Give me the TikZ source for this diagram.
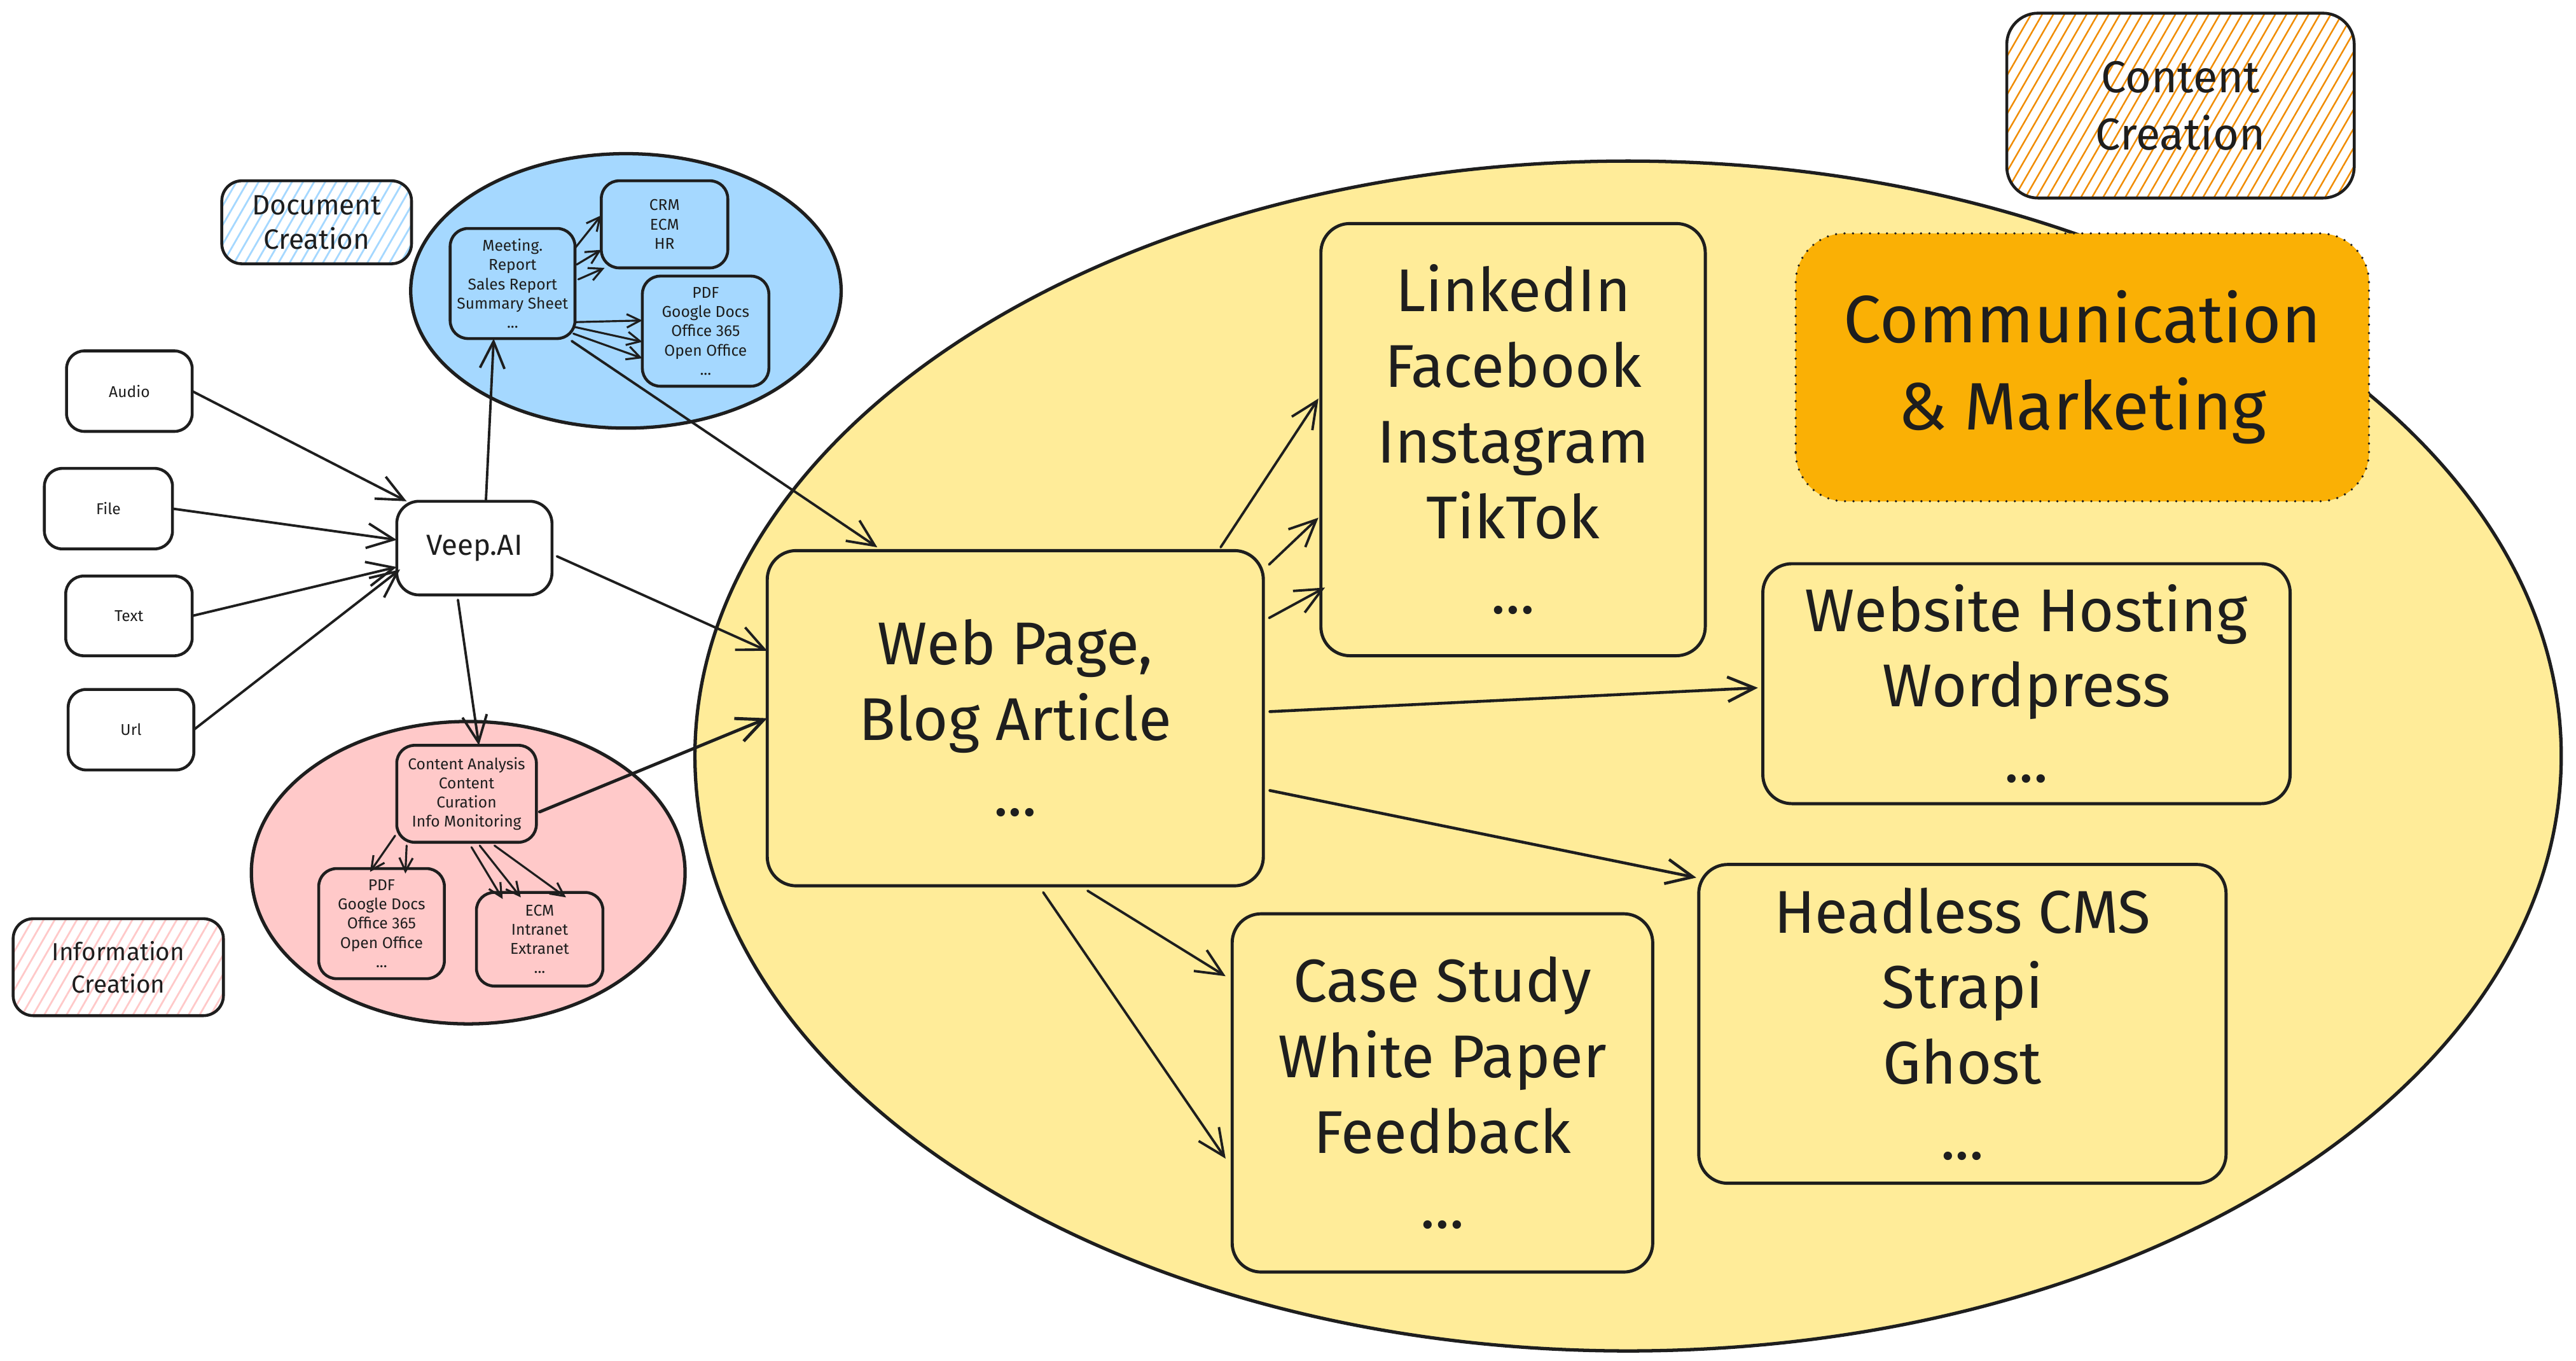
\documentclass[tikz,border=0pt]{standalone}
\usepackage{fontspec}
\setmainfont{Fira Sans}
\usetikzlibrary{arrows.meta,patterns.meta}
\definecolor{ink}{HTML}{1E1E1E}
\definecolor{blueF}{HTML}{A5D8FF}
\definecolor{pinkF}{HTML}{FFC9C9}
\definecolor{yelF}{HTML}{FFEC99}
\definecolor{orgF}{HTML}{FAB005}
\definecolor{orgH}{HTML}{F08C00}
\newcommand\mkbox[7]{\node[#1, minimum width={(#5-#3)*0.73494pt}, minimum height={(#6-#4)*0.73494pt}] (#2) at ({(#3+#5)/2},{(#4+#6)/2}) {#7};}
\tikzset{
  bx/.style={draw=ink,line width=1.4pt,rounded corners=13pt,inner sep=0pt,outer sep=0pt,align=center,text=ink},
  sbx/.style={bx,line width=1.3pt,rounded corners=8pt},
  bigtxt/.style={font=\fontsize{27}{33.8}\selectfont},
  tinytxt/.style={font=\fontsize{7}{8.6}\selectfont},
  arr/.style={draw=ink,line width=1.1pt,-{Straight Barb[length=12pt,width=11pt]}},
  sarr/.style={draw=ink,line width=0.9pt,-{Straight Barb[length=6pt,width=6pt]}},
  rim/.style={draw=ink,line width=1.5pt}
}
\begin{document}
\begin{tikzpicture}[x=0.02583cm,y=-0.02583cm,line join=round,line cap=round]
\fill[white] (0,0) rectangle (1568,828);
\useasboundingbox (0,0) rectangle (1568,828);

% ellipses
\draw[rim,fill=yelF] (991,460) ellipse [x radius=568, y radius=362];
\draw[rim,fill=blueF] (381,177) ellipse [x radius=131, y radius=83.5];
\draw[rim,fill=pinkF] (285,531) ellipse [x radius=132, y radius=92];

% legend boxes
\mkbox{bx,rounded corners=14pt,line width=1.3pt,pattern={Lines[angle=60,distance=4.3pt,line width=0.7pt]},pattern color=orgH,font=\fontsize{20}{25.7}\selectfont}{cc}{1221.5}{8}{1433}{120.5}{Content\\Creation}
\mkbox{bx,rounded corners=9pt,line width=1.3pt,pattern={Lines[angle=60,distance=4.3pt,line width=0.8pt]},pattern color=blueF,font=\fontsize{12.5}{15.4}\selectfont}{doc}{135}{110}{250.5}{160.5}{Document\\Creation}
\mkbox{bx,rounded corners=9pt,line width=1.3pt,pattern={Lines[angle=60,distance=4.3pt,line width=0.8pt]},pattern color=pinkF,font=\fontsize{11}{14.5}\selectfont}{info}{8}{559}{136}{618}{Information\\Creation}

% inputs
\mkbox{sbx,fill=white,tinytxt}{audio}{40.5}{213.5}{117}{262.5}{Audio}
\mkbox{sbx,fill=white,tinytxt}{file}{27}{285}{105}{334}{File}
\mkbox{sbx,fill=white,tinytxt}{text}{40}{350.5}{117}{399}{Text}
\mkbox{sbx,fill=white,tinytxt}{url}{41.5}{419.5}{118}{468.5}{Url}
\mkbox{sbx,fill=white,rounded corners=10pt,font=\fontsize{13}{16}\selectfont}{veep}{241.5}{305}{336}{362}{Veep.AI}

% document creation
\mkbox{sbx,tinytxt}{meet}{274}{139}{350}{206}{Meeting.\\Report\\Sales Report\\Summary Sheet\\...}
\mkbox{sbx,tinytxt}{crm}{366}{110}{443}{163}{CRM\\ECM\\HR}
\mkbox{sbx,tinytxt}{pdfa}{391}{168}{468}{235}{PDF\\Google Docs\\Office 365\\Open Office\\...}

% information creation
\mkbox{sbx,tinytxt}{ca}{241.5}{453.5}{326.5}{512.5}{Content Analysis\\Content\\Curation\\Info Monitoring}
\mkbox{sbx,tinytxt}{pdfb}{194}{528.5}{270.5}{595.5}{PDF\\Google Docs\\Office 365\\Open Office\\...}
\mkbox{sbx,tinytxt}{ecm}{290}{543}{367}{600}{ECM\\Intranet\\Extranet\\...}

% content creation
\mkbox{bx,bigtxt}{web}{467}{335}{769}{539}{Web Page,\\Blog Article\\...}
\mkbox{bx,bigtxt}{li}{804}{136}{1038}{399}{LinkedIn\\Facebook\\Instagram\\TikTok\\...}
\mkbox{bx,draw=none,fill=orgF,rounded corners=22pt,font=\fontsize{30}{39}\selectfont}{comm}{1093}{142}{1442}{305}{Communication\\\& Marketing}
\draw[ink,line width=1.1pt,dash pattern=on 0pt off 3.8pt,rounded corners=22pt] (comm.south west) rectangle (comm.north east);
\mkbox{bx,bigtxt}{host}{1073}{343}{1394}{489}{Website Hosting\\Wordpress\\...}
\mkbox{bx,bigtxt}{cms}{1034}{526}{1355}{720}{Headless CMS\\Strapi\\Ghost\\...}
\mkbox{bx,bigtxt}{case}{750}{556}{1006}{774}{Case Study\\White Paper\\Feedback\\...}

% connectors: inputs -> Veep.AI
\draw[arr] (audio.east) -- ([shift={(6,0)}]veep.north west);
\draw[arr] (file.east) -- ([shift={(0,-5)}]veep.west);
\draw[arr] (text.east) -- ([shift={(0,11.5)}]veep.west);
\draw[arr] (url.east) -- ([shift={(2,13)}]veep.west);

% Veep.AI -> groups
\draw[arr] ([shift={(7,0)}]veep.north) -- ([shift={(-11.5,0)}]meet.south);
\draw[arr] ([shift={(-10,3)}]veep.south) -- ([shift={(7.5,0)}]ca.north);
\draw[arr] ([shift={(3,5)}]veep.east) -- ([shift={(0,-41)}]web.west);

% meeting -> crm / pdf / web
\draw[sarr] ([shift={(0,-21.5)}]meet.east) -- ([shift={(0,-5.5)}]crm.west);
\draw[sarr] ([shift={(1,-11.5)}]meet.east) -- ([shift={(0,15.5)}]crm.west);
\draw[sarr] ([shift={(2,-2.5)}]meet.east) -- ([shift={(2,0)}]crm.south west);
\draw[sarr] ([shift={(0,23.5)}]meet.east) -- ([shift={(0,-6.5)}]pdfa.west);
\draw[sarr] ([shift={(0,26.5)}]meet.east) -- ([shift={(0,6.5)}]pdfa.west);
\draw[sarr] ([shift={(-1,30.5)}]meet.east) -- ([shift={(0,16.5)}]pdfa.west);
\draw[arr] ([shift={(-2,1.5)}]meet.south east) -- ([shift={(-84,-2)}]web.north);

% content analysis -> pdf / ecm / web
\draw[sarr] ([shift={(-1,-4)}]ca.south west) -- ([shift={(-7,2)}]pdfb.north);
\draw[sarr] ([shift={(6,2)}]ca.south west) -- ([shift={(14.5,3)}]pdfb.north);
\draw[sarr] ([shift={(3,3)}]ca.south) -- ([shift={(-22.5,4)}]ecm.north);
\draw[sarr] ([shift={(8,2)}]ca.south) -- ([shift={(-11.5,3)}]ecm.north);
\draw[sarr] ([shift={(17,2)}]ca.south) -- ([shift={(16,3)}]ecm.north);
\draw[arr,line width=1.4pt] ([shift={(2,11)}]ca.east) -- (web.west);

% web page -> channels
\draw[arr] ([shift={(-26,-2)}]web.north east) -- ([shift={(-1.5,-25)}]li.west);
\draw[arr] ([shift={(3.5,8.5)}]web.north east) -- ([shift={(-1.5,47.5)}]li.west);
\draw[arr] ([shift={(3.5,41)}]web.north east) -- ([shift={(2.5,90)}]li.west);
\draw[arr,line width=1.3pt] ([shift={(4,-4)}]web.east) -- ([shift={(-3,2.5)}]host.west);
\draw[arr,line width=1.3pt] ([shift={(4,44)}]web.east) -- ([shift={(-1.5,8)}]cms.north west);
\draw[arr] ([shift={(44,3)}]web.south) -- ([shift={(-4,-71)}]case.west);
\draw[arr] ([shift={(17,4)}]web.south) -- ([shift={(-4,40)}]case.west);
\end{tikzpicture}
\end{document}
